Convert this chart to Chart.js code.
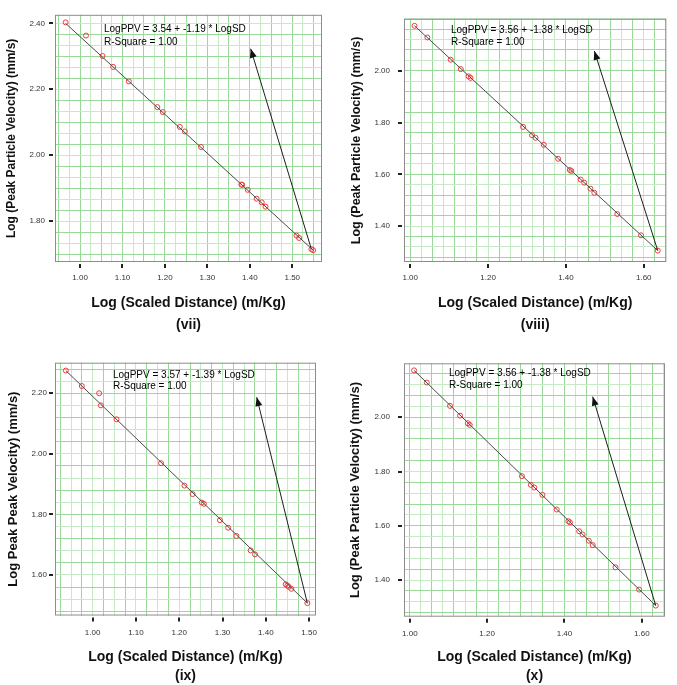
<!DOCTYPE html>
<html>
<head>
<meta charset="utf-8">
<script src="https://cdn.jsdelivr.net/npm/chart.js@4.4.1/dist/chart.umd.min.js"></script>
<style>
  html, body { margin: 0; padding: 0; background: #fff; }
  #wrap { position: relative; width: 677px; height: 685px; overflow: hidden; }
  #wrap canvas { position: absolute; }
</style>
</head>
<body>
<div id="wrap">
  <canvas id="c1" width="339" height="340" style="left:0px;top:0px"></canvas>
  <canvas id="c2" width="338" height="340" style="left:339px;top:0px"></canvas>
  <canvas id="c3" width="339" height="345" style="left:0px;top:340px"></canvas>
  <canvas id="c4" width="338" height="345" style="left:339px;top:340px"></canvas>
</div>
<script>
// === data ===
// (vii)
const sdVii  = [0.966, 1.014, 1.053, 1.078, 1.115, 1.182, 1.195, 1.235, 1.247, 1.285, 1.380, 1.382, 1.395, 1.416, 1.428, 1.437, 1.510, 1.516, 1.545, 1.549];
const ppvVii = [2.403, 2.363, 2.301, 2.268, 2.224, 2.146, 2.131, 2.086, 2.072, 2.025, 1.911, 1.910, 1.895, 1.868, 1.857, 1.844, 1.756, 1.749, 1.715, 1.712];
const fitSdVii = [0.966, 1.549];
const fitPpvVii = [2.400, 1.712];
const arrowSdVii = [1.545, 1.402];
const arrowPpvVii = [1.715, 2.323];
const xTicksVii = [1.0, 1.1, 1.2, 1.3, 1.4, 1.5];
const yTicksVii = [1.8, 2.0, 2.2, 2.4];

// (viii)  -- (x) shows the same set
const sdViii  = [1.011, 1.044, 1.104, 1.130, 1.150, 1.155, 1.290, 1.313, 1.322, 1.343, 1.380, 1.410, 1.414, 1.438, 1.447, 1.463, 1.473, 1.532, 1.593, 1.636];
const ppvViii = [2.173, 2.128, 2.042, 2.006, 1.978, 1.972, 1.783, 1.751, 1.741, 1.714, 1.660, 1.617, 1.613, 1.580, 1.568, 1.545, 1.529, 1.447, 1.365, 1.306];
const fitSdViii = [1.011, 1.636];
const fitPpvViii = [2.173, 1.306];
const arrowSdViii = [1.636, 1.473];
const arrowPpvViii = [1.306, 2.076];
const xTicksViii = [1.0, 1.2, 1.4, 1.6];
const yTicksViii = [1.4, 1.6, 1.8, 2.0];

// (ix)
const sdIx  = [0.938, 0.975, 1.015, 1.019, 1.055, 1.158, 1.212, 1.231, 1.252, 1.257, 1.294, 1.313, 1.332, 1.365, 1.375, 1.446, 1.450, 1.453, 1.459, 1.496];
const ppvIx = [2.275, 2.224, 2.200, 2.160, 2.114, 1.969, 1.895, 1.867, 1.839, 1.835, 1.781, 1.756, 1.729, 1.681, 1.668, 1.569, 1.565, 1.561, 1.554, 1.507];
const fitSdIx = [0.938, 1.496];
const fitPpvIx = [2.275, 1.507];
const arrowSdIx = [1.496, 1.379];
const arrowPpvIx = [1.507, 2.187];
const xTicksIx = [1.0, 1.1, 1.2, 1.3, 1.4, 1.5];
const yTicksIx = [1.6, 1.8, 2.0, 2.2];

Chart.defaults.font.family = '"Liberation Sans", Arial, sans-serif';
Chart.defaults.color = '#333';

const gridDark = '#9ad89a';
const gridLight = '#c6eac6';

function isMajor(list, v) {
  return list.some(m => Math.abs(m - v) < 1e-6);
}
function pts(xs, ys) {
  return xs.map((v, i) => ({x: v, y: ys[i]}));
}

// frame, tick marks, arrow head and the fit equation
const decor = {
  id: 'decor',
  afterDatasetsDraw(chart, args, o) {
    const {ctx, chartArea: a, scales} = chart;
    const x = scales.x, y = scales.y;
    ctx.save();
    ctx.strokeStyle = '#8c8c8c';
    ctx.lineWidth = 1;
    ctx.strokeRect(a.left + 0.5, a.top + 0.5, a.width - 1, a.height - 1);

    ctx.fillStyle = '#222';
    o.xMajor.forEach(v => {
      const px = Math.round(x.getPixelForValue(v));
      ctx.fillRect(px - 1, a.bottom + 2, 2, 4);
    });
    o.yMajor.forEach(v => {
      const py = Math.round(y.getPixelForValue(v));
      ctx.fillRect(a.left - 6, py - 1, 4, 2);
    });

    // arrow head at the end of the arrow line
    const bx = x.getPixelForValue(o.arrowX[0]), by = y.getPixelForValue(o.arrowY[0]);
    const tx = x.getPixelForValue(o.arrowX[1]), ty = y.getPixelForValue(o.arrowY[1]);
    const ang = Math.atan2(ty - by, tx - bx);
    const len = 9, half = 3.5;
    ctx.fillStyle = '#111';
    ctx.beginPath();
    ctx.moveTo(tx, ty);
    ctx.lineTo(tx - len * Math.cos(ang) + half * Math.sin(ang), ty - len * Math.sin(ang) - half * Math.cos(ang));
    ctx.lineTo(tx - len * Math.cos(ang) - half * Math.sin(ang), ty - len * Math.sin(ang) + half * Math.cos(ang));
    ctx.closePath();
    ctx.fill();

    ctx.fillStyle = '#000';
    ctx.font = '10px "Liberation Sans", Arial, sans-serif';
    ctx.textAlign = 'left';
    ctx.textBaseline = 'middle';
    ctx.fillText(o.equation, a.left + o.textDx, a.top + o.textDy[0]);
    ctx.fillText('R-Square = 1.00', a.left + o.textDx, a.top + o.textDy[1]);
    ctx.restore();
  }
};

function makePanel(id, p) {
  return new Chart(document.getElementById(id), {
    type: 'scatter',
    data: {
      datasets: [{
        data: pts(p.fitX, p.fitY),
        showLine: true,
        borderColor: '#4a4a4a',
        borderWidth: 1,
        pointRadius: 0
      }, {
        data: pts(p.arrowX, p.arrowY),
        showLine: true,
        borderColor: '#1e1e1e',
        borderWidth: 1,
        pointRadius: 0
      }, {
        data: pts(p.sd, p.ppv),
        pointRadius: 2.5,
        borderWidth: 1,
        borderColor: '#f03c3c',
        backgroundColor: 'rgba(0,0,0,0)'
      }]
    },
    options: {
      responsive: false,
      animation: false,
      layout: {padding: p.pad},
      plugins: {
        legend: {display: false},
        tooltip: {enabled: false},
        title: {
          display: true,
          text: p.label,
          position: 'bottom',
          fullSize: false,
          color: '#111',
          font: {size: 14, weight: 'bold'},
          padding: {top: 0, bottom: p.labelPad}
        },
        decor: {
          xMajor: p.xMajor,
          yMajor: p.yMajor,
          arrowX: p.arrowX,
          arrowY: p.arrowY,
          equation: p.equation,
          textDx: p.textDx,
          textDy: p.textDy
        }
      },
      scales: {
        x: {
          type: 'linear',
          min: p.xMin,
          max: p.xMax,
          afterFit: s => { s.height = p.xHeight; },
          border: {display: false},
          grid: {drawTicks: false, lineWidth: 1, color: c => c.index % 2 ? gridLight : gridDark},
          ticks: {
            stepSize: p.xStep,
            includeBounds: false,
            autoSkip: false,
            maxRotation: 0,
            minRotation: 0,
            padding: p.xTickPad,
            font: {size: 8},
            color: '#333',
            callback: v => isMajor(p.xMajor, v) ? v.toFixed(2) : ''
          },
          title: {
            display: true,
            text: 'Log (Scaled Distance) (m/Kg)',
            color: '#111',
            font: {size: 14, weight: 'bold'},
            padding: {top: 0, bottom: p.xTitlePad}
          }
        },
        y: {
          type: 'linear',
          min: p.yMin,
          max: p.yMax,
          afterFit: s => { s.width = p.yWidth; },
          border: {display: false},
          grid: {drawTicks: false, lineWidth: 1, color: c => c.index % 2 ? gridLight : gridDark},
          ticks: {
            stepSize: p.yStep,
            includeBounds: false,
            autoSkip: false,
            padding: p.yTickPad,
            font: {size: 8},
            color: '#333',
            callback: v => isMajor(p.yMajor, v) ? v.toFixed(2) : ''
          },
          title: {
            display: true,
            text: p.yTitle,
            color: '#111',
            font: {size: p.yTitleSize, weight: 'bold'},
            padding: {top: p.yTitlePad, bottom: 0}
          }
        }
      }
    },
    plugins: [decor]
  });
}

var chartVii = makePanel('c1', {
  sd: sdVii, ppv: ppvVii, fitX: fitSdVii, fitY: fitPpvVii, arrowX: arrowSdVii, arrowY: arrowPpvVii,
  xMajor: xTicksVii, yMajor: yTicksVii,
  xMin: 0.941, xMax: 1.570, yMin: 1.676, yMax: 2.426, xStep: 0.025, yStep: 0.2 / 6,
  pad: {left: 0, top: 1, right: 17, bottom: 0},
  yWidth: 55, xHeight: 54.6, xTickPad: 11, xTitlePad: 5.2, yTickPad: 10,
  yTitle: 'Log (Peak Particle Velocity) (mm/s)', yTitleSize: 12, yTitlePad: 4.8,
  label: '(vii)', labelPad: 6.6,
  equation: 'LogPPV = 3.54 + -1.19 * LogSD', textDx: 49, textDy: [14, 27]
});

var chartViii = makePanel('c2', {
  sd: sdViii, ppv: ppvViii, fitX: fitSdViii, fitY: fitPpvViii, arrowX: arrowSdViii, arrowY: arrowPpvViii,
  xMajor: xTicksViii, yMajor: yTicksViii,
  xMin: 0.984, xMax: 1.658, yMin: 1.262, yMax: 2.200, xStep: 0.2 / 7, yStep: 0.04,
  pad: {left: 0, top: 3, right: 3, bottom: 0},
  yWidth: 65, xHeight: 54.6, xTickPad: 11, xTitlePad: 5.2, yTickPad: 14,
  yTitle: 'Log (Peak Particle Velocity) (mm/s)', yTitleSize: 12.5, yTitlePad: 10.2,
  label: '(viii)', labelPad: 6.6,
  equation: 'LogPPV = 3.56 + -1.38 * LogSD', textDx: 47, textDy: [11, 23]
});

var chartIx = makePanel('c3', {
  sd: sdIx, ppv: ppvIx, fitX: fitSdIx, fitY: fitPpvIx, arrowX: arrowSdIx, arrowY: arrowPpvIx,
  xMajor: xTicksIx, yMajor: yTicksIx,
  xMin: 0.913, xMax: 1.516, yMin: 1.466, yMax: 2.301, xStep: 0.025, yStep: 0.04,
  pad: {left: 0, top: 22.7, right: 23, bottom: 0},
  yWidth: 55, xHeight: 52.7, xTickPad: 12.5, xTitlePad: 3.1, yTickPad: 8,
  yTitle: 'Log Peak Peak Velocity) (mm/s)', yTitleSize: 13, yTitlePad: 5.5,
  label: '(ix)', labelPad: 0,
  equation: 'LogPPV = 3.57 + -1.39 * LogSD', textDx: 58, textDy: [12.3, 24]
});

var chartX = makePanel('c4', {
  sd: sdViii, ppv: ppvViii, fitX: fitSdViii, fitY: fitPpvViii, arrowX: arrowSdViii, arrowY: arrowPpvViii,
  xMajor: xTicksViii, yMajor: yTicksViii,
  xMin: 0.985, xMax: 1.660, yMin: 1.265, yMax: 2.199, xStep: 0.2 / 7, yStep: 0.04,
  pad: {left: 0, top: 23.3, right: 12, bottom: 0},
  yWidth: 65, xHeight: 51.5, xTickPad: 11.8, xTitlePad: 3.1, yTickPad: 14,
  yTitle: 'Log (Peak Particle Velocity) (mm/s)', yTitleSize: 13, yTitlePad: 8.2,
  label: '(x)', labelPad: 0,
  equation: 'LogPPV = 3.56 + -1.38 * LogSD', textDx: 45, textDy: [10, 22.4]
});
</script>
</body>
</html>
